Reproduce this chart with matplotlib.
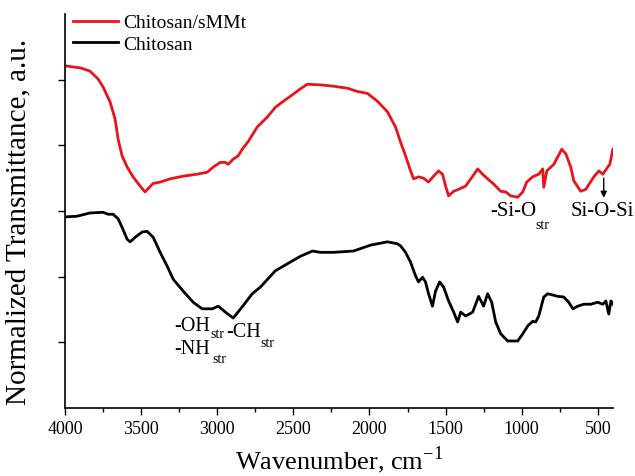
import matplotlib
matplotlib.use("Agg")
import matplotlib.pyplot as plt
from matplotlib.ticker import MultipleLocator

plt.rcParams['font.family'] = ['Liberation Serif', 'DejaVu Serif']
plt.rcParams['mathtext.fontset'] = 'custom'
plt.rcParams['mathtext.rm'] = 'Liberation Serif'

# Chitosan/sMMt spectrum (wavenumber, normalized transmittance)
wn_comp = [4000, 3901, 3836, 3783, 3750, 3704, 3671, 3651, 3625, 3592, 3553, 3507, 3474,
           3454, 3421, 3375, 3309, 3224, 3132, 3066, 3026, 2980, 2947, 2928, 2895, 2862,
           2836, 2796, 2737, 2671, 2618, 2566, 2500, 2454, 2408, 2322, 2237, 2145, 2079,
           2013, 1947, 1882, 1829,
           1796, 1763, 1730, 1710, 1678, 1645, 1612, 1579, 1546, 1520, 1500, 1480, 1447,
           1414, 1368, 1322, 1289, 1257, 1224, 1184, 1138, 1105, 1072, 1026, 993, 967,
           928, 888, 862, 855, 835, 789, 737, 710, 678, 658, 612, 579, 526, 493, 467,
           434, 421, 401]
tr_comp = [5.21, 5.18, 5.13, 5.01, 4.89, 4.66, 4.40, 4.09, 3.84, 3.67, 3.52, 3.38, 3.29,
           3.34, 3.42, 3.44, 3.49, 3.53, 3.56, 3.59, 3.67, 3.74, 3.74, 3.71, 3.79, 3.84,
           3.94, 4.06, 4.28, 4.43, 4.58, 4.67, 4.78, 4.86, 4.93, 4.92, 4.90, 4.87, 4.82,
           4.79, 4.67, 4.51, 4.28,
           4.05, 3.84, 3.61, 3.49, 3.52, 3.50, 3.44, 3.53, 3.61, 3.56, 3.38, 3.23, 3.30,
           3.33, 3.38, 3.53, 3.64, 3.56, 3.49, 3.41, 3.30, 3.29, 3.23, 3.21, 3.29, 3.44,
           3.52, 3.56, 3.64, 3.36, 3.61, 3.71, 3.94, 3.87, 3.67, 3.46, 3.30, 3.33, 3.52,
           3.61, 3.56, 3.67, 3.71, 3.94]

# Chitosan spectrum
wn_chit = [4000, 3921, 3836, 3750, 3717, 3684, 3651, 3625, 3592, 3572, 3539, 3493, 3461,
           3421, 3375, 3329, 3289, 3224, 3158, 3099, 3033, 2993, 2947, 2895, 2836, 2770,
           2717, 2618, 2454, 2375, 2322, 2237, 2105, 1993, 1882, 1816, 1796, 1763, 1730,
           1697, 1678, 1651, 1632, 1612, 1586, 1566, 1539, 1513, 1480, 1447, 1421, 1401,
           1368, 1322, 1283, 1263, 1250, 1224, 1197, 1171, 1138, 1092, 1026, 993, 960,
           928, 908, 888, 855, 829, 763, 724, 691, 664, 632, 592, 546, 500, 467, 447,
           428, 414, 401]
tr_chit = [2.91, 2.92, 2.97, 2.98, 2.95, 2.95, 2.88, 2.75, 2.57, 2.53, 2.60, 2.68, 2.69,
           2.60, 2.37, 2.16, 1.96, 1.78, 1.61, 1.51, 1.51, 1.55, 1.46, 1.37, 1.54, 1.74,
           1.84, 2.09, 2.31, 2.39, 2.37, 2.37, 2.39, 2.48, 2.53, 2.50, 2.47, 2.37, 2.22,
           2.01, 1.92, 1.99, 1.92, 1.74, 1.55, 1.78, 1.92, 1.84, 1.63, 1.46, 1.31, 1.46,
           1.40, 1.46, 1.70, 1.61, 1.55, 1.74, 1.61, 1.31, 1.13, 1.02, 1.02, 1.13, 1.25,
           1.32, 1.31, 1.40, 1.69, 1.74, 1.70, 1.69, 1.61, 1.51, 1.55, 1.58, 1.58, 1.61,
           1.58, 1.63, 1.43, 1.63, 1.58]

series_labels = ["Chitosan/sMMt", "Chitosan"]
x_ticks = [4000, 3500, 3000, 2500, 2000, 1500, 1000, 500]

fig = plt.figure(figsize=(6.35, 4.77), dpi=100)
ax = fig.add_axes([0.1024, 0.1426, 0.863, 0.826])

ax.plot(wn_comp, tr_comp, color='#e8141b', lw=2.0, label=series_labels[0])
ax.plot(wn_chit, tr_chit, color='black', lw=2.0, label=series_labels[1])

ax.set_xlim(4000, 400)
ax.set_ylim(0, 6.0)
ax.set_xticks(x_ticks)
ax.xaxis.set_minor_locator(MultipleLocator(250))
ax.set_yticks([1, 2, 3, 4, 5])
ax.set_yticklabels([])
ax.tick_params(axis='x', which='major', direction='out', length=5, width=1, labelsize=13)
ax.tick_params(axis='x', which='minor', direction='out', length=3, width=1)
ax.tick_params(axis='y', which='major', direction='out', length=5, width=1)
for s in ['top', 'right']:
    ax.spines[s].set_visible(False)
for s in ['left', 'bottom']:
    ax.spines[s].set_linewidth(1.2)

ax.set_xlabel(r"Wavenumber, cm$^{-1}$", fontsize=19, labelpad=5)
ax.set_ylabel("Normalized Transmittance, a.u.", fontsize=21)
ax.yaxis.set_label_coords(-0.062, 0.475)

leg = ax.legend(loc='upper left', frameon=False, fontsize=14, handlelength=2.3,
                handletextpad=0.3, labelspacing=0.2, borderaxespad=0.0,
                bbox_to_anchor=(0.0, 1.02))

# annotations
fs_main = 14.5
fs_sub = 10
ax.text(3283, 1.26, "-OH", fontsize=fs_main, ha='left', va='center')
ax.text(3046, 1.13, "str", fontsize=fs_sub, ha='left', va='center')
ax.text(2941, 1.17, "-CH", fontsize=fs_main, ha='left', va='center')
ax.text(2717, 1.00, "str", fontsize=fs_sub, ha='left', va='center')
ax.text(3283, 0.91, "-NH", fontsize=fs_main, ha='left', va='center')
ax.text(3033, 0.75, "str", fontsize=fs_sub, ha='left', va='center')

ax.text(1204, 3.00, "-Si-O", fontsize=15, ha='left', va='center')
ax.text(908, 2.80, "str", fontsize=fs_sub, ha='left', va='center')
ax.text(678, 3.00, "Si-O-Si", fontsize=15, ha='left', va='center')
ax.annotate("", xy=(461, 3.20), xytext=(461, 3.50),
            arrowprops=dict(arrowstyle='-|>', color='black', lw=1.0,
                            mutation_scale=9, shrinkA=0, shrinkB=0))

fig.savefig("out.png", dpi=100)
